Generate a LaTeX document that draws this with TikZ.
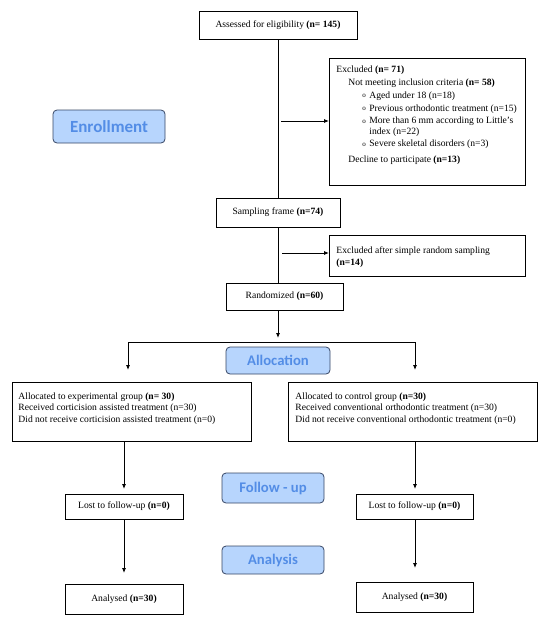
\documentclass[tikz,border=0pt]{standalone}
\usepackage{fontspec}
\setmainfont{Liberation Serif}
\newfontfamily\lblfont{Carlito}
\usetikzlibrary{arrows.meta}
\definecolor{phasefill}{RGB}{183,213,253}
\definecolor{phasetext}{RGB}{83,141,230}
\definecolor{phaseborder}{RGB}{55,70,100}
\newcommand{\bul}{\makebox[7pt][l]{\raisebox{0.3pt}{\fontsize{7}{7}\selectfont o}}}
\begin{document}
\begin{tikzpicture}[x=1pt,y=-1pt,
  box/.style={draw, line width=0.8pt, inner sep=0pt, align=center, font=\fontsize{9.6}{12}\selectfont},
  tbox/.style={draw, line width=0.8pt, inner sep=0pt, anchor=north west, font=\fontsize{9.6}{12}\selectfont},
  phase/.style={draw=phaseborder, fill=phasefill, rounded corners=4pt, line width=0.8pt, text=phasetext, inner sep=0pt, font=\lblfont\bfseries\fontsize{14.7}{18}\selectfont},
  arr/.style={-{Latex[length=5pt,width=4pt]}, line width=0.8pt},
  ln/.style={line width=0.8pt}]
\useasboundingbox (0,0) rectangle (548,624);

\node[box, minimum width=158, minimum height=28] (assess) at (278,25) {Assessed for eligibility \textbf{(n= 145)}};

\node[tbox] (excl) at (329,58) {\parbox[c][127pt][t]{196pt}{\fontsize{9.6}{12.8}\selectfont\raggedright\vspace*{7pt}%
\hspace*{7pt}Excluded \textbf{(n= 71)}\\[0.3pt]
\hspace*{19pt}Not meeting inclusion criteria \textbf{(n= 58)}\\[0.3pt]
\hspace*{33pt}\bul Aged under 18 (n=18)\\
\hspace*{33pt}\bul Previous orthodontic treatment (n=15)\\
\hspace*{33pt}\bul More than 6 mm according to Little's\\[-2.5pt]
\hspace*{40pt}index (n=22)\\
\hspace*{33pt}\bul Severe skeletal disorders (n=3)\\[2.5pt]
\hspace*{19pt}Decline to participate \textbf{(n=13)}}};

\node[phase, minimum width=112, minimum height=33, font=\lblfont\bfseries\fontsize{17}{20}\selectfont] (enroll) at (109,126.5) {Enrollment};

\node[box, minimum width=124, minimum height=29] (sampling) at (278,212.5) {Sampling frame \textbf{(n=74)}};

\node[tbox] (excl2) at (329,235) {\parbox[c][41pt][t]{196pt}{\raggedright\vspace*{11pt}%
\hspace*{7pt}Excluded after simple random sampling\\[0.5pt]
\hspace*{7pt}\textbf{(n=14)}}};

\node[box, minimum width=117, minimum height=27] (rand) at (284.5,296.5) {Randomized \textbf{(n=60)}};

\node[phase, minimum width=104, minimum height=27] (alloc) at (278,360.5) {Allocation};

\node[tbox] (exp) at (12,382) {\parbox[c][59pt][t]{239pt}{\raggedright\vspace*{10pt}%
\hspace*{6pt}Allocated to experimental group \textbf{(n= 30)}\\[-0.5pt]
\hspace*{6pt}Received corticision assisted treatment (n=30)\\[-0.5pt]
\hspace*{6pt}Did not receive corticision assisted treatment (n=0)}};

\node[tbox] (ctrl) at (288,382) {\parbox[c][59pt][t]{249pt}{\raggedright\vspace*{10pt}%
\hspace*{7pt}Allocated to control group \textbf{(n=30)}\\[-0.5pt]
\hspace*{7pt}Received conventional orthodontic treatment (n=30)\\[-0.5pt]
\hspace*{7pt}Did not receive conventional orthodontic treatment (n=0)}};

\node[phase, minimum width=102, minimum height=30] (follow) at (273,488) {Follow - up};
\node[phase, minimum width=102, minimum height=28] (analysis) at (273,560) {Analysis};

\node[box, minimum width=118, minimum height=25] (lostL) at (124,506.5) {Lost to follow-up \textbf{(n=0)}};
\node[box, minimum width=117, minimum height=25] (lostR) at (414.5,506.5) {Lost to follow-up \textbf{(n=0)}};
\node[box, minimum width=118, minimum height=30] (anaL) at (124,599) {Analysed \textbf{(n=30)}};
\node[box, minimum width=117, minimum height=30] (anaR) at (414.5,597) {Analysed \textbf{(n=30)}};

% connectors
\draw[ln] (assess.south) -- (sampling.north);
\coordinate (e1) at (281,121);
\draw[arr] (e1) -- (excl.west |- e1);
\draw[ln] (sampling.south) -- (sampling.south |- rand.north);
\coordinate (e2) at (282,253);
\draw[arr] (e2) -- (excl2.west |- e2);
\coordinate (split) at (278,338);
\draw[arr] (sampling.south |- rand.south) -- (split);
\coordinate (sl) at (128,342);
\coordinate (sr) at (415,342);
\coordinate (tl) at (128,370);
\coordinate (tr) at (415,370);
\draw[ln] (sl) -- (sr);
\draw[arr] (sl) -- (tl);
\draw[arr] (sr) -- (tr);
\coordinate (a1) at (124,489);
\coordinate (a2) at (124,573);
\coordinate (a3) at (415,489);
\coordinate (a4) at (415,568);
\draw[arr] (lostL.north |- exp.south) -- (a1);
\draw[arr] (lostL.south) -- (a2);
\draw[arr] (a3 |- ctrl.south) -- (a3);
\draw[arr] (a4 |- lostR.south) -- (a4);
\end{tikzpicture}
\end{document}
